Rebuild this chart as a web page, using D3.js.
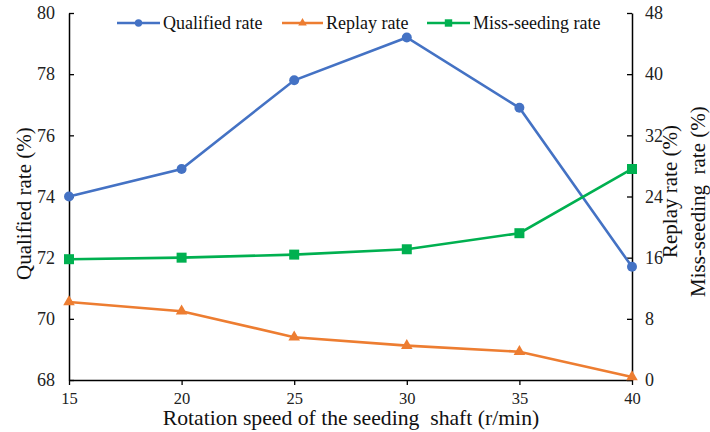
<!DOCTYPE html>
<html>
<head>
<meta charset="utf-8">
<script src="https://cdn.jsdelivr.net/npm/d3@7"></script>
<style>
  html, body { margin: 0; padding: 0; background: #fff; }
</style>
</head>
<body>
<svg id="chart" width="710" height="432"></svg>
<script>
// Rotation speed of the seeding shaft (r/min)
const speeds = [15, 20, 25, 30, 35, 40];
// Performance indicators (%)
const qualifiedRate = [74.0, 74.9, 77.8, 79.2, 76.9, 71.7];
const replayRate = [10.2, 9.0, 5.6, 4.5, 3.7, 0.4];
const missSeedingRate = [15.8, 16.0, 16.4, 17.1, 19.2, 27.6];
const leftTicks = [68, 70, 72, 74, 76, 78, 80];
const rightTicks = [0, 8, 16, 24, 32, 40, 48];

const colors = { qualified: "#4472C4", replay: "#ED7D31", miss: "#00B050" };
const serif = "'Liberation Serif', 'Times New Roman', Times, serif";

const svg = d3.select("#chart");
const m = { left: 69, right: 632, top: 13, bottom: 380 };

const x = d3.scaleLinear().domain([15, 40]).range([m.left, m.right]);
const yL = d3.scaleLinear().domain([68, 80]).range([m.bottom, m.top]);
const yR = d3.scaleLinear().domain([0, 48]).range([m.bottom, m.top]);

// Axes: y ticks point into the plot, x ticks point down
const xAxis = svg.append("g").attr("transform", `translate(0,${m.bottom})`)
  .call(d3.axisBottom(x).tickValues(speeds).tickSize(5).tickSizeOuter(0).tickPadding(7));
const leftAxis = svg.append("g").attr("transform", `translate(${m.left},0)`)
  .call(d3.axisLeft(yL).tickValues(leftTicks).tickSize(-5).tickSizeOuter(0).tickPadding(14));
const rightAxis = svg.append("g").attr("transform", `translate(${m.right},0)`)
  .call(d3.axisRight(yR).tickValues(rightTicks).tickSize(-5).tickSizeOuter(0).tickPadding(13));

[xAxis, leftAxis, rightAxis].forEach(g => {
  g.attr("font-family", null).attr("font-size", null);
  g.select(".domain").attr("stroke", "#000").attr("stroke-width", 1.5);
  g.selectAll(".tick line").attr("stroke", "#000").attr("stroke-width", 1.3);
  g.selectAll(".tick text").attr("fill", "#222")
    .style("font-family", serif).style("font-size", "18px");
});
xAxis.selectAll(".tick text").style("font-size", "16.5px");

// Axis titles
const title = (t) => svg.append("text").style("font-family", serif).style("font-size", "21px")
  .style("white-space", "pre").attr("fill", "#111").text(t);
title("Rotation speed of the seeding  shaft (r/min)")
  .style("font-size", "21.7px")
  .attr("text-anchor", "middle").attr("x", 351).attr("y", 425);
title("Qualified rate (%)").attr("transform", "translate(31,280) rotate(-90)");
title("Replay rate (%)").attr("transform", "translate(677,258) rotate(-90)");
title("Miss-seeding  rate (%)").attr("transform", "translate(705,297) rotate(-90)");

// Series
const series = [
  { name: "Qualified rate", values: qualifiedRate, y: yL, color: colors.qualified, symbol: d3.symbolCircle, size: 78 },
  { name: "Replay rate", values: replayRate, y: yR, color: colors.replay, symbol: d3.symbolTriangle, size: 58 },
  { name: "Miss-seeding rate", values: missSeedingRate, y: yR, color: colors.miss, symbol: d3.symbolSquare, size: 100 }
];

series.forEach(s => {
  const pts = speeds.map((v, i) => [v, s.values[i]]);
  svg.append("path").datum(pts)
    .attr("fill", "none").attr("stroke", s.color).attr("stroke-width", 2.6)
    .attr("d", d3.line().x(d => x(d[0])).y(d => s.y(d[1])));
  svg.selectAll(null).data(pts).enter().append("path")
    .attr("transform", d => `translate(${x(d[0])},${s.y(d[1])})`)
    .attr("d", d3.symbol().type(s.symbol).size(s.size))
    .attr("fill", s.color);
});

// Legend
const legendItems = [
  { s: series[0], x0: 117, x1: 160, tx: 163 },
  { s: series[1], x0: 282, x1: 323, tx: 326 },
  { s: series[2], x0: 427, x1: 470, tx: 473 }
];
const ly = 23;
legendItems.forEach(it => {
  svg.append("line").attr("x1", it.x0).attr("x2", it.x1).attr("y1", ly).attr("y2", ly)
    .attr("stroke", it.s.color).attr("stroke-width", 2.6);
  svg.append("path").attr("transform", `translate(${(it.x0 + it.x1) / 2},${ly})`)
    .attr("d", d3.symbol().type(it.s.symbol).size(it.s.size * 0.55)).attr("fill", it.s.color);
  svg.append("text").attr("x", it.tx).attr("y", ly + 6).style("font-family", serif)
    .style("font-size", "18px").attr("fill", "#111").text(it.s.name);
});
</script>
</body>
</html>
